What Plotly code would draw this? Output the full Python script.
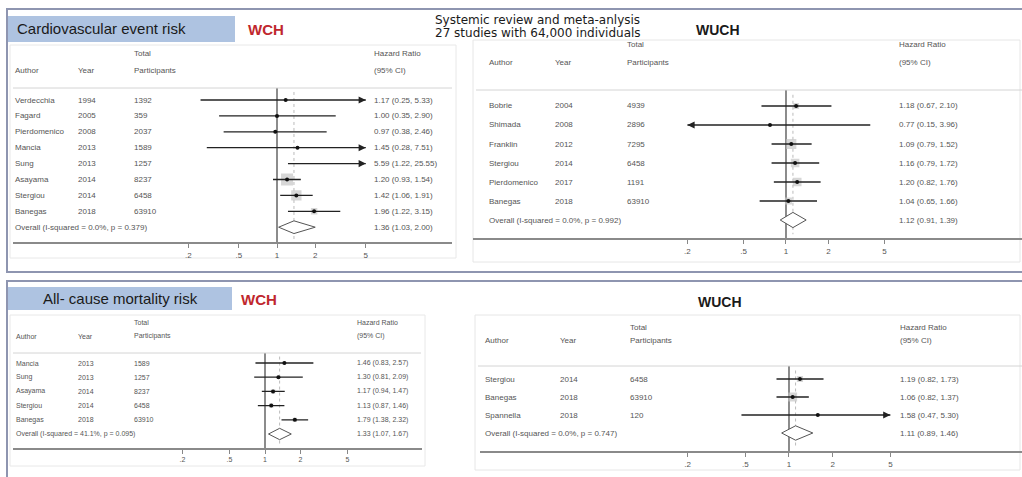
import math
import plotly.graph_objects as go

W, H = 1022, 477
FONT = "Liberation Sans, Arial, sans-serif"

# ---------------- data ----------------
TICK_VALS = [0.2, 0.5, 1, 2, 5]
TICK_TEXT = [".2", ".5", "1", "2", "5"]
X_MIN, X_MAX = 0.2, 5.0

# Panel A: cardiovascular event risk, WCH
a_author = ["Verdecchia", "Fagard", "Pierdomenico", "Mancia", "Sung", "Asayama", "Stergiou", "Banegas"]
a_year = [1994, 2005, 2008, 2013, 2013, 2014, 2014, 2018]
a_n = [1392, 359, 2037, 1589, 1257, 8237, 6458, 63910]
a_hr = [1.17, 1.00, 0.97, 1.45, 5.59, 1.20, 1.42, 1.96]
a_lo = [0.25, 0.35, 0.38, 0.28, 1.22, 0.93, 1.06, 1.22]
a_hi = [5.33, 2.90, 2.46, 7.51, 25.55, 1.54, 1.91, 3.15]
a_w = [1.2, 2.6, 3.3, 1.1, 1.2, 44.9, 33.0, 12.7]
a_overall = [1.36, 1.03, 2.00]
a_overall_label = "Overall (I-squared = 0.0%, p = 0.379)"

# Panel B: cardiovascular event risk, WUCH
b_author = ["Bobrie", "Shimada", "Franklin", "Stergiou", "Pierdomenico", "Banegas"]
b_year = [2004, 2008, 2012, 2014, 2017, 2018]
b_n = [4939, 2896, 7295, 6458, 1191, 63910]
b_hr = [1.18, 0.77, 1.09, 1.16, 1.20, 1.04]
b_lo = [0.67, 0.15, 0.79, 0.79, 0.82, 0.65]
b_hi = [2.10, 3.96, 1.52, 1.72, 1.76, 1.66]
b_w = [10.0, 1.2, 30.3, 21.5, 22.2, 14.8]
b_overall = [1.12, 0.91, 1.39]
b_overall_label = "Overall (I-squared = 0.0%, p = 0.992)"

# Panel C: all-cause mortality risk, WCH
c_author = ["Mancia", "Sung", "Asayama", "Stergiou", "Banegas"]
c_year = [2013, 2013, 2014, 2014, 2018]
c_n = [1589, 1257, 8237, 6458, 63910]
c_hr = [1.46, 1.30, 1.17, 1.13, 1.79]
c_lo = [0.83, 0.81, 0.94, 0.87, 1.38]
c_hi = [2.57, 2.09, 1.47, 1.46, 2.32]
c_w = [14.0, 16.0, 25.0, 22.0, 23.0]
c_overall = [1.33, 1.07, 1.67]
c_overall_label = "Overall (I-squared = 41.1%, p = 0.095)"

# Panel D: all-cause mortality risk, WUCH
d_author = ["Stergiou", "Banegas", "Spannella"]
d_year = [2014, 2018, 2018]
d_n = [6458, 63910, 120]
d_hr = [1.19, 1.06, 1.58]
d_lo = [0.82, 0.82, 0.47]
d_hi = [1.73, 1.37, 5.30]
d_w = [31.1, 65.9, 3.0]
d_overall = [1.11, 0.89, 1.46]
d_overall_label = "Overall (I-squared = 0.0%, p = 0.747)"

# ---------------- layout geometry (pixels) ----------------
panels = [
    dict(author=a_author, year=a_year, n=a_n, hr=a_hr, lo=a_lo, hi=a_hi, w=a_w,
         ov=a_overall, ovlab=a_overall_label,
         x_one=277, ppd=127, first=100, step=15.9, sep=88, axis=243,
         cols=(13, 76, 132, 372), hdr=(53, 70), rule=(13, 452), axrule=(13, 452), fs=8, box=1.8),
    dict(author=b_author, year=b_year, n=b_n, hr=b_hr, lo=b_lo, hi=b_hi, w=b_w,
         ov=b_overall, ovlab=b_overall_label,
         x_one=786, ppd=141, first=106, step=19, sep=90, axis=239,
         cols=(487, 553, 625, 897), hdr=(45, 62), rule=(476, 1022), axrule=(473, 1022), fs=8, box=1.85),
    dict(author=c_author, year=c_year, n=c_n, hr=c_hr, lo=c_lo, hi=c_hi, w=c_w,
         ov=c_overall, ovlab=c_overall_label,
         x_one=265, ppd=118, first=363, step=14.2, sep=353, axis=449,
         cols=(14, 76, 132, 355), hdr=(322, 336), rule=(13, 421), axrule=(13, 422), fs=7, box=0.9),
    dict(author=d_author, year=d_year, n=d_n, hr=d_hr, lo=d_lo, hi=d_hi, w=d_w,
         ov=d_overall, ovlab=d_overall_label,
         x_one=789, ppd=145, first=379, step=18, sep=366, axis=452,
         cols=(483, 558, 628, 898), hdr=(327, 340), rule=(478, 1022), axrule=(480, 1022), fs=8, box=1.1),
]

TXT = "#555555"
fig = go.Figure()
layout = {}
shapes = []
annotations = []


def px(xp):
    return xp / W


def py(yp):
    return 1 - yp / H


for k, p in enumerate(panels, start=1):
    s = "" if k == 1 else str(k)
    xa, ya = "x" + s, "y" + s
    pad = 3
    r0 = math.log10(X_MIN) - pad / p["ppd"]
    r1 = math.log10(X_MAX) + pad / p["ppd"]
    d0 = (p["x_one"] + r0 * p["ppd"]) / W
    d1 = (p["x_one"] + r1 * p["ppd"]) / W
    ytop = (p["first"] - p["sep"]) / p["step"]
    ybot = -(p["axis"] - p["first"]) / p["step"]
    layout["xaxis" + s] = dict(type="log", range=[r0, r1], domain=[d0, d1], anchor=ya,
                               tickmode="array", tickvals=TICK_VALS, ticktext=TICK_TEXT,
                               ticks="outside", ticklen=4, tickwidth=1, tickcolor="#888888",
                               tickfont=dict(size=p["fs"], color=TXT, family=FONT),
                               showgrid=False, zeroline=False, showline=False, fixedrange=True)
    layout["yaxis" + s] = dict(range=[ybot, ytop], domain=[py(p["axis"]), py(p["sep"])], anchor=xa,
                               visible=False, fixedrange=True)

    nrow = len(p["author"])
    rows = [-i for i in range(nrow)]
    ov_row = -nrow

    # null line and overall estimate line
    fig.add_trace(go.Scatter(x=[1, 1], y=[ytop, ybot], mode="lines",
                             line=dict(color="#666666", width=1.5), xaxis=xa, yaxis=ya, hoverinfo="skip"))
    fig.add_trace(go.Scatter(x=[p["ov"][0]] * 2, y=[ytop - 0.25, ybot + 0.25], mode="lines",
                             line=dict(color="#bbbbbb", width=1, dash="dot"), xaxis=xa, yaxis=ya, hoverinfo="skip"))
    # weight boxes
    fig.add_trace(go.Scatter(x=p["hr"], y=rows, mode="markers",
                             marker=dict(symbol="square", color="#c6c6c6",
                                         size=[p["box"] * math.sqrt(w) for w in p["w"]], line=dict(width=0)),
                             xaxis=xa, yaxis=ya, hoverinfo="skip"))
    # CI lines (clipped to axis range)
    cx, cy = [], []
    for lo, hi, r in zip(p["lo"], p["hi"], rows):
        cx += [max(lo, X_MIN), min(hi, X_MAX), None]
        cy += [r, r, None]
        if hi > X_MAX:
            annotations.append(dict(x=math.log10(X_MAX), y=r, ax=math.log10(X_MAX) - 0.06, ay=r,
                                    xref=xa, yref=ya, axref=xa, ayref=ya, text="", showarrow=True,
                                    arrowhead=2, arrowsize=1.1, arrowwidth=1.3, arrowcolor="#222222"))
        if lo < X_MIN:
            annotations.append(dict(x=math.log10(X_MIN), y=r, ax=math.log10(X_MIN) + 0.06, ay=r,
                                    xref=xa, yref=ya, axref=xa, ayref=ya, text="", showarrow=True,
                                    arrowhead=2, arrowsize=1.1, arrowwidth=1.3, arrowcolor="#222222"))
    fig.add_trace(go.Scatter(x=cx, y=cy, mode="lines", line=dict(color="#222222", width=1.3),
                             xaxis=xa, yaxis=ya, hoverinfo="skip"))
    # point estimates
    fig.add_trace(go.Scatter(x=p["hr"], y=rows, mode="markers",
                             marker=dict(symbol="circle", color="#111111", size=4),
                             xaxis=xa, yaxis=ya, hoverinfo="skip"))
    # overall diamond
    est, olo, ohi = p["ov"]
    hh = 0.4
    fig.add_trace(go.Scatter(x=[olo, est, ohi, est, olo], y=[ov_row, ov_row + hh, ov_row, ov_row - hh, ov_row],
                             mode="lines", fill="toself", fillcolor="white",
                             line=dict(color="#555555", width=1), xaxis=xa, yaxis=ya, hoverinfo="skip"))

    # rules: separator under header and the axis baseline
    shapes.append(dict(type="line", xref="paper", yref="paper", x0=px(p["rule"][0]), x1=px(p["rule"][1]),
                       y0=py(p["sep"]), y1=py(p["sep"]), line=dict(color="#d4d4d4", width=1)))
    shapes.append(dict(type="line", xref="paper", yref=ya + " domain", x0=px(p["axrule"][0]),
                       x1=px(p["axrule"][1]), y0=0, y1=0, line=dict(color="#8a8a8a", width=2)))

    # header text
    c_auth, c_year, c_n, c_hr = p["cols"]
    h1, h2 = p["hdr"]
    for txt, xx, yy in [("Total", c_n, h1), ("Author", c_auth, h2), ("Year", c_year, h2),
                        ("Participants", c_n, h2), ("Hazard Ratio", c_hr, h1), ("(95% CI)", c_hr, h2)]:
        annotations.append(dict(x=px(xx), y=py(yy), xref="paper", yref="paper", text=txt, showarrow=False,
                                xanchor="left", yanchor="middle",
                                font=dict(size=p["fs"], color=TXT, family=FONT)))
    # row text
    for i in range(nrow):
        vals = [(p["author"][i], c_auth), (str(p["year"][i]), c_year), (str(p["n"][i]), c_n),
                ("%.2f (%.2f, %.2f)" % (p["hr"][i], p["lo"][i], p["hi"][i]), c_hr)]
        for txt, xx in vals:
            annotations.append(dict(x=px(xx), y=rows[i], xref="paper", yref=ya, text=txt, showarrow=False,
                                    xanchor="left", yanchor="middle",
                                    font=dict(size=p["fs"], color=TXT, family=FONT)))
    annotations.append(dict(x=px(c_auth), y=ov_row, xref="paper", yref=ya, text=p["ovlab"], showarrow=False,
                            xanchor="left", yanchor="middle", font=dict(size=p["fs"], color=TXT, family=FONT)))
    annotations.append(dict(x=px(c_hr), y=ov_row, xref="paper", yref=ya,
                            text="%.2f (%.2f, %.2f)" % tuple(p["ov"]), showarrow=False,
                            xanchor="left", yanchor="middle", font=dict(size=p["fs"], color=TXT, family=FONT)))

# ---------------- frames and titles ----------------
def rect(x0, y0, x1, y1, color, width, fill=None):
    d = dict(type="rect", xref="paper", yref="paper", x0=px(x0), x1=px(x1), y0=py(y0), y1=py(y1),
             line=dict(color=color, width=width), layer="below")
    if fill:
        d["fillcolor"] = fill
    return d

# faint inner panel frames
shapes.append(rect(10, 45, 456, 258, "#e8e8e8", 1))
shapes.append(rect(473, 40, 1020, 262, "#e6e6e6", 1))
shapes.append(rect(10, 315, 425, 466, "#e8e8e8", 1))
shapes.append(rect(475, 315, 1020, 470, "#e6e6e6", 1))
# outer slide frames
shapes.append(rect(7, 9, 1040, 272, "#8e95b0", 2))
shapes.append(rect(7, 281, 1040, 500, "#8e95b0", 2))
# blue title boxes
shapes.append(rect(8, 16, 235, 42, "rgba(0,0,0,0)", 0, fill="#aec3e1"))
shapes.append(rect(8, 287, 232, 310, "rgba(0,0,0,0)", 0, fill="#aec3e1"))

def label(text, x, y, size, color="#1a1a1a", anchor="left", bold=False, family=FONT):
    annotations.append(dict(x=px(x), y=py(y), xref="paper", yref="paper",
                            text="<b>%s</b>" % text if bold else text, showarrow=False,
                            xanchor=anchor, yanchor="middle", font=dict(size=size, color=color, family=family)))

label("Cardiovascular event risk", 15, 29, 15)
label("WCH", 266, 30, 15, color="#c0272d", anchor="center", bold=True)
label("All- cause mortality risk", 120, 298, 15, anchor="center")
label("WCH", 259, 299, 15, color="#c0272d", anchor="center", bold=True)
label("Systemic review and meta-anlysis", 433, 20, 12, family="DejaVu Sans, sans-serif")
label("27 studies with 64,000 individuals", 433, 33, 12, family="DejaVu Sans, sans-serif")
label("WUCH", 718, 30, 14, anchor="center", bold=True)
label("WUCH", 720, 302, 14, anchor="center", bold=True)

layout.update(dict(width=W, height=H, margin=dict(l=0, r=0, t=0, b=0), paper_bgcolor="white",
                   plot_bgcolor="rgba(0,0,0,0)", showlegend=False, shapes=shapes, annotations=annotations,
                   font=dict(family=FONT)))
fig.update_layout(**layout)
fig.write_html("out.html", config={"displayModeBar": False},
               post_script="document.body.style.margin='0px';document.body.style.overflow='hidden';")
